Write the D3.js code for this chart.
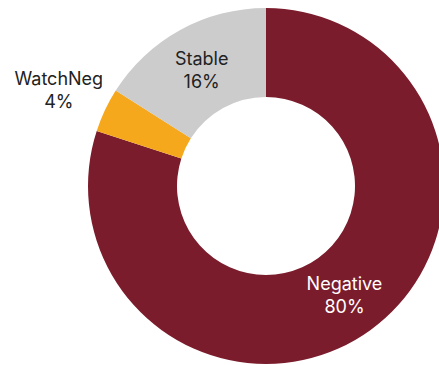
<!DOCTYPE html>
<html>
<head>
<meta charset="utf-8">
<script src="https://cdn.jsdelivr.net/npm/d3@7"></script>
<style>
  html, body { margin: 0; padding: 0; background: #fff; }
  svg { display: block; }
  text { font-family: Inter, "Noto Sans", sans-serif; font-size: 18px; font-weight: 400; }
</style>
</head>
<body>
<svg id="chart" width="439" height="365"></svg>
<script>
// Outlook distribution
const categories = ["Negative", "WatchNeg", "Stable"];
const values = [80, 4, 16];
const colors = ["#7b1c2c", "#f6a81d", "#cccccc"];
const labelColors = ["#ffffff", "#222222", "#222222"];
const outsideLabel = [false, true, false];

const width = 439, height = 365;
const cx = 266, cy = 186;
const outerR = 178, innerR = 89;

const data = categories.map((c, i) => ({ name: c, value: values[i], i }));

const svg = d3.select("#chart");
const g = svg.append("g").attr("transform", `translate(${cx},${cy})`);

const pie = d3.pie().value(d => d.value).sort(null);
const arc = d3.arc().innerRadius(innerR).outerRadius(outerR);
const labelArcInner = d3.arc().innerRadius(innerR + 42).outerRadius(outerR - 42);
const labelArcOuter = d3.arc().innerRadius(229).outerRadius(229);

const arcs = pie(data);

g.selectAll("path")
  .data(arcs)
  .join("path")
  .attr("d", arc)
  .attr("fill", d => colors[d.data.i]);

const labels = g.selectAll("text.lbl")
  .data(arcs)
  .join("text")
  .attr("class", "lbl")
  .attr("text-anchor", "middle")
  .attr("fill", d => labelColors[d.data.i])
  .attr("transform", d => {
    const [x, y] = (outsideLabel[d.data.i] ? labelArcOuter : labelArcInner).centroid(d);
    return `translate(${x},${y})`;
  });

labels.append("tspan")
  .attr("x", 0)
  .attr("dy", "-0.2em")
  .text(d => d.data.name);
labels.append("tspan")
  .attr("x", 0)
  .attr("dy", "1.28em")
  .text(d => d.data.value + "%");
</script>
</body>
</html>
